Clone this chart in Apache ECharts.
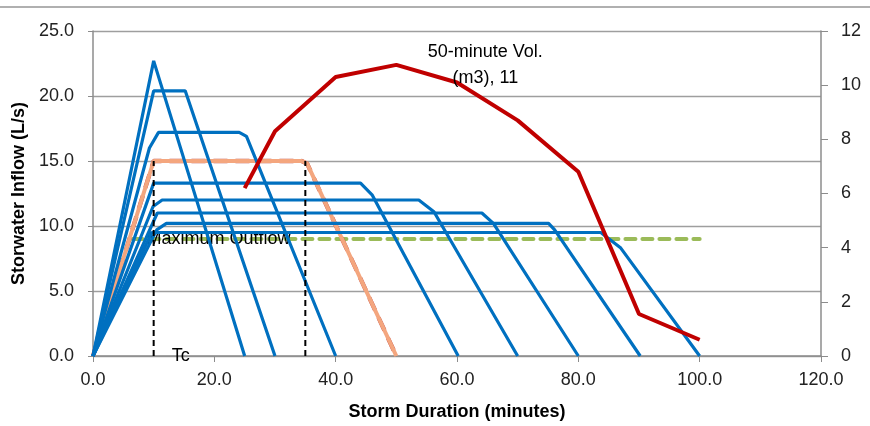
<!DOCTYPE html>
<html style="height: 100%">
<head>
 <meta charset="utf-8">
 <title>Storm hydrographs</title>
 <script src="https://cdn.jsdelivr.net/npm/echarts/dist/echarts.min.js"></script>
</head>
<body style="height: 100%; margin: 0; background: #fff">
 <div id="main" style="width: 870px; height: 426px"></div>
 <script type="text/javascript">
 // inflow hydrographs (minutes, L/s), one per storm duration
 var storm10 = [[0, 0], [10, 22.7], [25, 0]];
 var storm15 = [[0, 0], [10, 20.4], [15.2, 20.4], [30, 0]];
 var storm25 = [[0, 0], [9.3, 16.0], [10.8, 17.2], [24.1, 17.2], [25.3, 16.9], [40, 0]];
 var storm35 = [[0, 0], [10, 15.0], [34.4, 15.0], [35.3, 14.8], [50, 0]];
 var storm45 = [[0, 0], [10, 13.3], [44.1, 13.3], [46, 12.4], [60.2, 0]];
 var storm55 = [[0, 0], [9.9, 11.5], [11.4, 12.0], [53.7, 12.0], [56.2, 11.1], [70, 0]];
 var storm65 = [[0, 0], [10.6, 11.0], [64.1, 11.0], [66, 10.2], [80, 0]];
 var storm75 = [[0, 0], [10.5, 9.7], [12.1, 10.2], [75.1, 10.2], [76.1, 9.7], [90.2, 0]];
 var storm85 = [[0, 0], [9.7, 9.5], [83.7, 9.5], [87, 8.3], [100, 0]];

 // storage volume against storm duration (right axis, m3)
 var volDuration = [25, 30, 40, 50, 60, 70, 80, 90, 100];
 var volM3 = [6.2, 8.3, 10.3, 10.75, 10.1, 8.7, 6.8, 1.55, 0.6];

 // maximum outflow and time of concentration markers
 var outflowX = [6.5, 100];
 var outflowQ = 9.0;
 var tcLine = [[10, 0], [10, 15]];
 var durLine = [[35, 0], [35, 15]];

 var blueSets = [storm10, storm15, storm25, storm45, storm55, storm65, storm75, storm85];

 var font = 'Liberation Sans';
 var myChart = echarts.init(document.getElementById('main'));

 var series = [];

 series.push({
 type: 'line', data: [[outflowX[0], outflowQ], [outflowX[1], outflowQ]],
 symbol: 'circle', symbolSize: 0, showSymbol: true,
 lineStyle: { color: '#9BBB59', width: 4, type: [10, 7], cap: 'round' },
 label: {
 show: true, position: 'right', distance: 14, color: '#000',
 fontFamily: font, fontSize: 18,
 formatter: function (p) { return p.dataIndex === 0 ? 'Maximum Outflow' : ''; }
 },
 z: 2, silent: true
 });

 // red dashed copy sits under the orange 35-minute line
 series.push({
 type: 'line', data: storm35, showSymbol: false,
 lineStyle: { color: '#C0504D', width: 4.3, type: [14, 8] }, z: 3
 });
 series.push({
 type: 'line', data: storm35, showSymbol: false,
 lineStyle: { color: '#F4A67E', width: 4 }, z: 4
 });

 blueSets.forEach(function (d) {
 series.push({
 type: 'line', data: d, showSymbol: false,
 lineStyle: { color: '#0070C0', width: 3.2 }, z: 5
 });
 });

 series.push({
 type: 'line', data: tcLine, symbol: 'circle', symbolSize: 0, showSymbol: true,
 lineStyle: { color: '#000', width: 2, type: [6, 4] },
 label: {
 show: true, position: 'right', distance: 18, color: '#000',
 fontFamily: font, fontSize: 18,
 formatter: function (p) { return p.dataIndex === 0 ? 'Tc' : ''; }
 },
 z: 6
 });
 series.push({
 type: 'line', data: durLine, showSymbol: false,
 lineStyle: { color: '#000', width: 2, type: [6, 4] }, z: 6
 });

 series.push({
 type: 'line', yAxisIndex: 1,
 data: volDuration.map(function (x, i) { return [x, volM3[i]]; }),
 symbol: 'circle', symbolSize: 0, showSymbol: true,
 lineStyle: { color: '#C00000', width: 4 },
 label: {
 show: true, position: 'inside', offset: [89, 0], color: '#000',
 fontFamily: font, fontSize: 18, lineHeight: 26, align: 'center',
 formatter: function (p) {
 return p.value[0] === 50 ? '50-minute Vol.\n(m3), ' + Math.round(p.value[1]) : '';
 }
 },
 z: 7
 });

 var option = {
 animation: false,
 grid: { left: 93, right: 49, top: 31, bottom: 69 },
 graphic: [{
 type: 'line', shape: { x1: 0, y1: 7, x2: 870, y2: 7 },
 style: { stroke: '#B0B0B0', lineWidth: 2 }
 }],
 xAxis: {
 type: 'value', min: 0, max: 120, interval: 20,
 name: 'Storm Duration (minutes)', nameLocation: 'middle', nameGap: 47,
 nameTextStyle: { fontFamily: font, fontSize: 18, fontWeight: 'bold', color: '#000' },
 axisLine: { lineStyle: { color: '#8C8C8C', width: 1.5 } },
 axisTick: { show: true, length: 6, lineStyle: { color: '#8C8C8C' } },
 axisLabel: {
 fontFamily: font, fontSize: 18, color: '#222', margin: 15,
 formatter: function (v) { return v.toFixed(1); }
 },
 splitLine: { show: false }
 },
 yAxis: [{
 type: 'value', min: 0, max: 25, interval: 5,
 name: 'Storwater Inflow (L/s)', nameLocation: 'middle', nameGap: 64,
 nameTextStyle: { fontFamily: font, fontSize: 18, fontWeight: 'bold', color: '#000' },
 axisLine: { show: true, lineStyle: { color: '#8C8C8C', width: 1.5 } },
 axisTick: { show: true, length: 5, lineStyle: { color: '#8C8C8C' } },
 axisLabel: {
 fontFamily: font, fontSize: 18, color: '#222', margin: 19,
 formatter: function (v) { return v.toFixed(1); }
 },
 splitLine: { show: true, lineStyle: { color: '#9E9E9E', width: 1.3 } }
 }, {
 type: 'value', min: 0, max: 12, interval: 2, position: 'right',
 axisLine: { show: true, lineStyle: { color: '#8C8C8C', width: 1.5 } },
 axisTick: { show: true, length: 7, lineStyle: { color: '#8C8C8C' } },
 axisLabel: { fontFamily: font, fontSize: 18, color: '#222', margin: 20 },
 splitLine: { show: false }
 }],
 series: series
 };

 myChart.setOption(option);
 </script>
</body>
</html>
